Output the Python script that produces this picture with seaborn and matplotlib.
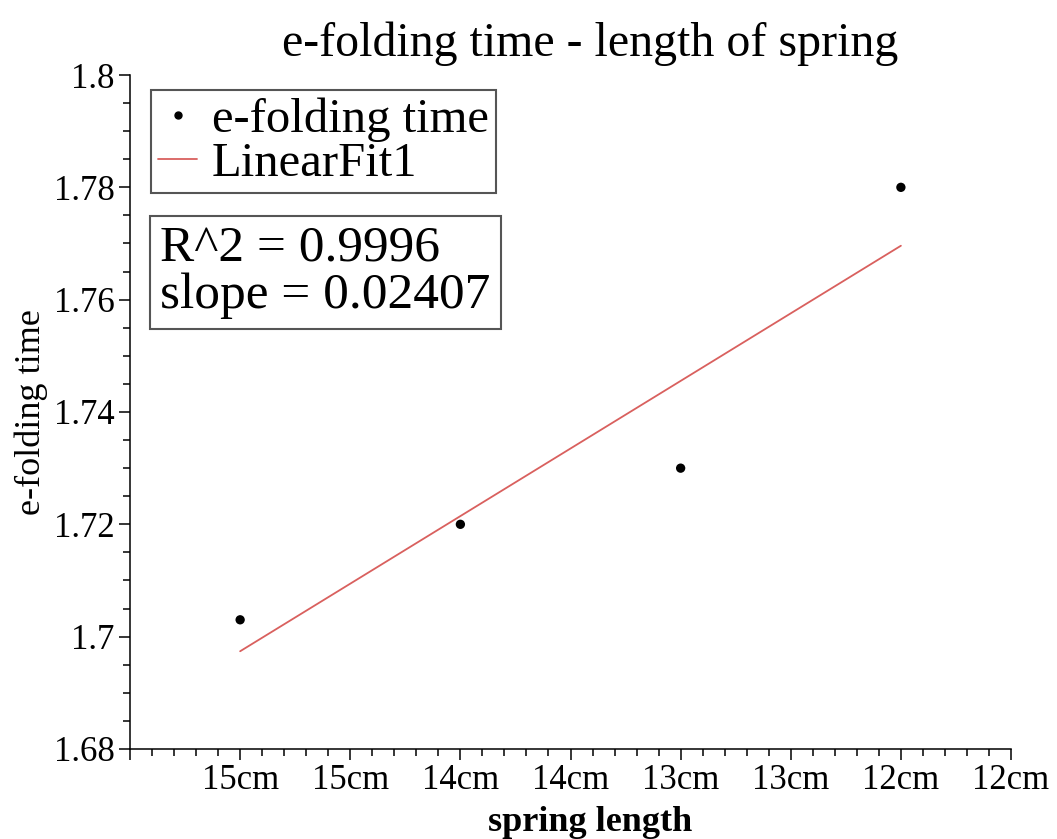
import matplotlib
matplotlib.use("Agg")
import matplotlib.pyplot as plt
import seaborn as sns
import pandas as pd
from matplotlib.ticker import MultipleLocator, FixedLocator
from matplotlib.lines import Line2D

# Data
spring_length_cm = [15, 14, 13, 12]
efolding_time = [1.703, 1.720, 1.730, 1.780]
fit_x = [15, 12]
fit_y = [1.6974, 1.7696]
x_tick_values = [15.5, 15.0, 14.5, 14.0, 13.5, 13.0, 12.5, 12.0, 11.5]
x_tick_labels = ["", "15cm", "15cm", "14cm", "14cm", "13cm", "13cm", "12cm", "12cm"]
y_tick_values = [1.68, 1.70, 1.72, 1.74, 1.76, 1.78, 1.80]
y_tick_labels = ["1.68", "1.7", "1.72", "1.74", "1.76", "1.78", "1.8"]
r2_text = "R^2 = 0.9996\nslope = 0.02407"

sns.set_style("ticks")
plt.rcParams['font.family'] = ['Liberation Serif', 'DejaVu Serif']
plt.rcParams['text.color'] = 'black'
plt.rcParams['axes.labelcolor'] = 'black'
plt.rcParams['xtick.color'] = 'black'
plt.rcParams['ytick.color'] = 'black'

fig = plt.figure(figsize=(10.57, 8.39), dpi=100)
ax = fig.add_axes([0.123, 0.1073, 0.8335, 0.8033])

df_pts = pd.DataFrame({"x": spring_length_cm, "y": efolding_time})
df_fit = pd.DataFrame({"x": fit_x, "y": fit_y})

sns.lineplot(data=df_fit, x="x", y="y", ax=ax, color="#d9605e", linewidth=1.3,
             legend=False)
sns.scatterplot(data=df_pts, x="x", y="y", ax=ax, color="black", s=45,
                edgecolor="none", legend=False, zorder=3)

ax.set_xlim(15.5, 11.5)
ax.set_ylim(1.68, 1.80)

ax.xaxis.set_major_locator(FixedLocator(x_tick_values))
ax.set_xticklabels(x_tick_labels)
ax.xaxis.set_minor_locator(MultipleLocator(0.1))
ax.yaxis.set_major_locator(FixedLocator(y_tick_values))
ax.set_yticklabels(y_tick_labels)
ax.yaxis.set_minor_locator(MultipleLocator(0.005))

ax.tick_params(axis="both", which="major", direction="out", length=8, width=1.1,
               labelsize=25, colors="black", pad=3)
ax.tick_params(axis="both", which="minor", direction="out", length=5, width=1.1,
               colors="black")

for s in ["top", "right"]:
    ax.spines[s].set_visible(False)
for s in ["left", "bottom"]:
    ax.spines[s].set_linewidth(1.1)
    ax.spines[s].set_color("black")

ax.set_xlabel("spring length", fontsize=26, fontweight="bold", color="black")
ax.xaxis.set_label_coords(0.522, -0.085)
ax.set_ylabel("e-folding time", fontsize=26, labelpad=4, color="black")

ax.set_title("e-folding time - length of spring", fontsize=34.5, pad=14, x=0.522,
             color="black")

handles = [
    Line2D([], [], marker="o", color="black", linestyle="none", markersize=5),
    Line2D([], [], color="#d9605e", linewidth=1.3),
]
leg = ax.legend(handles, ["e-folding time", "LinearFit1"], loc="upper left",
                bbox_to_anchor=(0.024, 0.978), borderaxespad=0, fontsize=35,
                frameon=True, fancybox=False, framealpha=1, edgecolor="#555555",
                handlelength=0.8, handletextpad=0.3, labelspacing=0.0,
                borderpad=0.15, labelcolor="black")
leg.get_frame().set_linewidth(1.5)

ax.text(0.034, 0.776, r2_text, transform=ax.transAxes, fontsize=37,
        ha="left", va="top", linespacing=1.0, color="black",
        bbox=dict(boxstyle="square,pad=0.2", facecolor="white",
                  edgecolor="#555555", linewidth=1.5))

fig.savefig("out.png", dpi=100)
